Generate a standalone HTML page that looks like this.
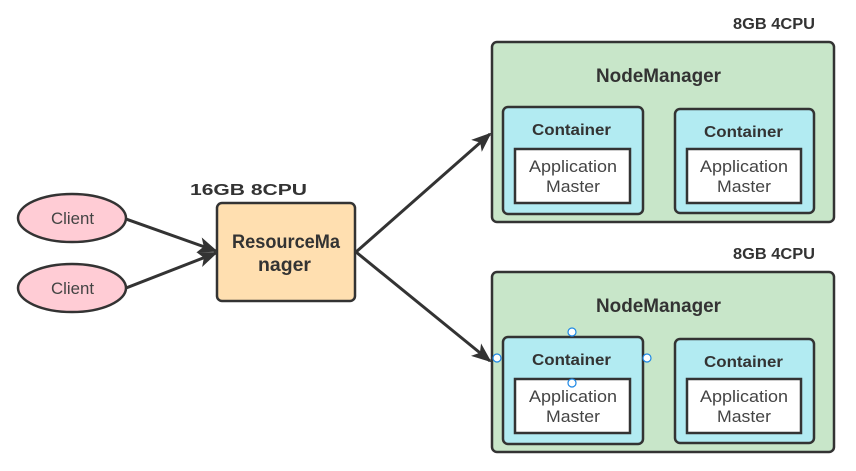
<!DOCTYPE html>
<html><head><meta charset="utf-8"><style>
html,body{margin:0;padding:0;background:#fff;}
svg{display:block;font-family:"Liberation Sans","DejaVu Sans",sans-serif;}
.b{font-weight:bold;fill:#333;}
.n{fill:#444;}
</style></head><body>
<svg width="856" height="471" viewBox="0 0 856 471" xmlns="http://www.w3.org/2000/svg">
<defs>
<marker id="ab" markerWidth="20" markerHeight="16" refX="18" refY="8" orient="auto" markerUnits="userSpaceOnUse" viewBox="0 0 20 16"><path d="M0,0 L20,8 L0,16 L5,8 Z" fill="#333"/></marker></defs>
<g stroke="#333" stroke-width="3" fill="none">
<line x1="126" y1="219" x2="216" y2="251" marker-end="url(#ab)"/>
<line x1="126" y1="288" x2="216" y2="253" marker-end="url(#ab)"/>
<line x1="356" y1="252" x2="490" y2="134" marker-end="url(#ab)"/>
<line x1="356" y1="252" x2="490" y2="361" marker-end="url(#ab)"/>
</g>
<ellipse cx="72" cy="218" rx="54" ry="24" fill="#ffccd5" stroke="#333" stroke-width="2.5"/>
<ellipse cx="72" cy="288" rx="54" ry="24" fill="#ffccd5" stroke="#333" stroke-width="2.5"/>
<text x="51" y="224" font-size="17" textLength="43" lengthAdjust="spacingAndGlyphs" class="n">Client</text>
<text x="51" y="294" font-size="17" textLength="43" lengthAdjust="spacingAndGlyphs" class="n">Client</text>
<text x="190" y="195" font-size="16" textLength="117" lengthAdjust="spacingAndGlyphs" class="b">16GB 8CPU</text>
<rect x="217" y="203" width="138" height="98" rx="5" fill="#ffdfb0" stroke="#333" stroke-width="2.5"/>
<text x="232" y="248" font-size="19" textLength="108" lengthAdjust="spacingAndGlyphs" class="b">ResourceMa</text>
<text x="258" y="271" font-size="19" textLength="53" lengthAdjust="spacingAndGlyphs" class="b">nager</text>
<g id="nm">
<text x="733" y="29" font-size="16" textLength="82" lengthAdjust="spacingAndGlyphs" class="b">8GB 4CPU</text>
<rect x="492" y="42" width="342" height="180" rx="5" fill="#c8e6c9" stroke="#333" stroke-width="2.5"/>
<text x="596" y="82" font-size="19" textLength="125" lengthAdjust="spacingAndGlyphs" class="b">NodeManager</text>
<rect x="503" y="107" width="140" height="107" rx="5" fill="#b2ebf2" stroke="#333" stroke-width="2.5"/>
<text x="532" y="135" font-size="16" textLength="79" lengthAdjust="spacingAndGlyphs" class="b">Container</text>
<rect x="515" y="149" width="115" height="54" fill="#fff" stroke="#333" stroke-width="2.5"/>
<text x="529" y="172" font-size="17" textLength="88" lengthAdjust="spacingAndGlyphs" class="n">Application</text>
<text x="546" y="192" font-size="17" textLength="54" lengthAdjust="spacingAndGlyphs" class="n">Master</text>
<rect x="675" y="109" width="139" height="104" rx="5" fill="#b2ebf2" stroke="#333" stroke-width="2.5"/>
<text x="704" y="137" font-size="16" textLength="79" lengthAdjust="spacingAndGlyphs" class="b">Container</text>
<rect x="687" y="149" width="114" height="54" fill="#fff" stroke="#333" stroke-width="2.5"/>
<text x="700" y="172" font-size="17" textLength="88" lengthAdjust="spacingAndGlyphs" class="n">Application</text>
<text x="717" y="192" font-size="17" textLength="54" lengthAdjust="spacingAndGlyphs" class="n">Master</text>
</g>
<use href="#nm" y="230"/>
<g fill="#fff" stroke="#1e88e5" stroke-width="1.2">
<circle cx="572" cy="332" r="4"/><circle cx="497" cy="358" r="4"/><circle cx="647" cy="358" r="4"/><circle cx="572" cy="383" r="4"/>
</g>
</svg>
</body></html>
